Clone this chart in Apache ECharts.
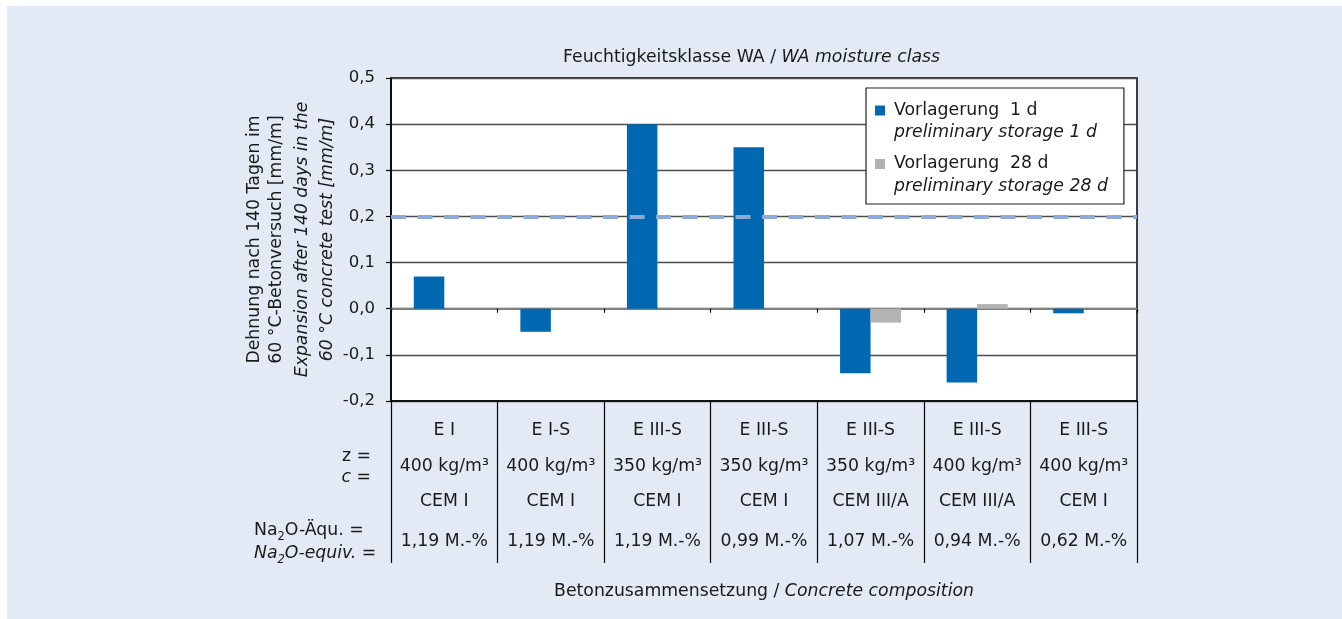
<!DOCTYPE html>
<html>
<head>
<meta charset="utf-8">
<script src="https://cdn.jsdelivr.net/npm/echarts@6/dist/echarts.min.js"></script>
<style>
html,body{margin:0;padding:0;background:#ffffff;}
#chart{position:absolute;left:7px;top:6px;width:1335px;height:613px;background:#e3eaf5;}
</style>
</head>
<body>
<div id="chart"></div>
<script>
// ---- data ----
const categories = ['E I', 'E I-S', 'E III-S', 'E III-S', 'E III-S', 'E III-S', 'E III-S'];
const cementContent = ['400 kg/m³', '400 kg/m³', '350 kg/m³', '350 kg/m³', '350 kg/m³', '400 kg/m³', '400 kg/m³'];
const cementType = ['CEM I', 'CEM I', 'CEM I', 'CEM I', 'CEM III/A', 'CEM III/A', 'CEM I'];
const naEquiv = ['1,19 M.-%', '1,19 M.-%', '1,19 M.-%', '0,99 M.-%', '1,07 M.-%', '0,94 M.-%', '0,62 M.-%'];
const storage1d = [0.07, -0.05, 0.40, 0.35, -0.14, -0.16, -0.01];
const storage28d = [null, null, null, null, -0.03, 0.01, null];
const seriesNamesDe = ['Vorlagerung  1 d', 'Vorlagerung  28 d'];
const seriesNamesEn = ['preliminary storage 1 d', 'preliminary storage 28 d'];
const limitValue = 0.2;
const yTicks = { min: -0.2, max: 0.5, interval: 0.1 };
const rowLabels = ['z =', '{i|c} =', 'Na{s|2}O-Äqu. =', '{i|Na}{si|2}{i|O-equiv. =}'];

const FONT = 'DejaVu Sans';
const FS = 17.3;
const FSY = 16.5;
const TXT = '#1a1a1a';
const OX = 7, OY = 6; // container offset

const chart = echarts.init(document.getElementById('chart'), null, {renderer: 'canvas'});

const enMap = {};
seriesNamesDe.forEach((n, i) => enMap[n] = seriesNamesEn[i]);

function rowAxis(data, margin, showTicks) {
  return {
    type: 'category', gridIndex: 0, position: 'bottom', data: data,
    axisLine: { show: showTicks, onZero: false, lineStyle: { color: '#000', width: 1.5 } },
    axisTick: { show: showTicks, length: 162, lineStyle: { color: '#000', width: 1.2 } },
    axisLabel: { show: true, margin: margin, verticalAlign: 'middle', color: TXT, fontFamily: FONT, fontSize: FS, interval: 0 },
    splitLine: { show: false }
  };
}

const option = {
  animation: false,
  textStyle: { fontFamily: FONT },
  title: {
    text: 'Feuchtigkeitsklasse WA / {i|WA moisture class}',
    left: 558 - OX, top: 44 - OY,
    textStyle: { fontFamily: FONT, fontSize: FS, fontWeight: 'normal', color: TXT,
      rich: { i: { fontFamily: FONT, fontSize: FS, fontStyle: 'italic', color: TXT } } }
  },
  grid: { left: 391 - OX, top: 78 - OY, width: 746, height: 323, containLabel: false, show: true,
    borderColor: '#000', borderWidth: 1.5, backgroundColor: '#ffffff' },
  legend: {
    data: seriesNamesDe,
    orient: 'vertical',
    left: 866 - OX, top: 88 - OY,
    backgroundColor: '#ffffff', borderColor: '#222', borderWidth: 1.2,
    padding: [14, 16, 9, 9],
    itemGap: 14,
    itemWidth: 14, itemHeight: 32.5,
    icon: 'path://M0,0h10v10h-10z M14,32.5',
    formatter: function (name) { return '{a|' + name + '}\n{b|' + enMap[name] + '}'; },
    textStyle: { color: TXT, fontFamily: FONT, fontSize: FS,
      rich: {
        a: { fontFamily: FONT, fontSize: FS, color: TXT, lineHeight: 22.5 },
        b: { fontFamily: FONT, fontSize: FS, color: TXT, fontStyle: 'italic', lineHeight: 22.5 }
      } }
  },
  xAxis: [
    {
      type: 'category', gridIndex: 0, data: categories,
      axisLine: { show: true, onZero: true, lineStyle: { color: '#808080', width: 2 } },
      axisTick: { show: true, length: 4, lineStyle: { color: '#000', width: 1.2 } },
      axisLabel: { show: false }, splitLine: { show: false }
    },
    Object.assign(rowAxis(categories, 30, true), {
      name: 'Betonzusammensetzung / {i|Concrete composition}', nameLocation: 'middle', nameGap: 182,
      nameMoveOverlap: false,
      nameTextStyle: { color: TXT, fontFamily: FONT, fontSize: FS,
        rich: { i: { fontFamily: FONT, fontSize: FS, fontStyle: 'italic', color: TXT } } }
    }),
    rowAxis(cementContent, 66, false),
    rowAxis(cementType, 101, false),
    rowAxis(naEquiv, 141, false)
  ],
  yAxis: {
    type: 'value', min: yTicks.min, max: yTicks.max, interval: yTicks.interval,
    axisLine: { show: true, lineStyle: { color: '#000', width: 1.5 } },
    axisTick: { show: true, length: 5, lineStyle: { color: '#000', width: 1.2 } },
    axisLabel: { margin: 16, color: TXT, fontFamily: FONT, fontSize: FSY,
      formatter: v => v.toFixed(1).replace('.', ',') },
    splitLine: { show: true, lineStyle: { color: '#4d4d4d', width: 1.3 } },
    name: '{n|Dehnung nach 140 Tagen im}\n{n|60 °C-Betonversuch [mm/m]}\n{i3|Expansion after 140 days in the}\n{i|60 °C concrete test [mm/m]}',
    nameLocation: 'middle', nameRotate: 90, nameGap: 52, nameMoveOverlap: false,
    nameTextStyle: { color: TXT, fontFamily: FONT, fontSize: FS,
      rich: {
        n: { fontFamily: FONT, fontSize: FS, color: TXT, lineHeight: 22 },
        i3: { fontFamily: FONT, fontSize: FS, color: TXT, fontStyle: 'italic', lineHeight: 29 },
        i: { fontFamily: FONT, fontSize: FS, color: TXT, fontStyle: 'italic', lineHeight: 22 }
      } }
  },
  series: [
    {
      name: seriesNamesDe[0], type: 'bar', data: storage1d, xAxisIndex: 0,
      barWidth: 30.5, barGap: '0%',
      itemStyle: { color: '#0068b1' },
      markLine: {
        silent: true, symbol: ['none', 'none'], label: { show: false },
        lineStyle: { color: '#8eaadb', width: 4, type: [15, 11.5] },
        data: [{ yAxis: limitValue }]
      }
    },
    {
      name: seriesNamesDe[1], type: 'bar', data: storage28d, xAxisIndex: 0,
      barWidth: 30.5, barGap: '0%',
      itemStyle: { color: '#b3b3b3' }
    }
  ],
  graphic: [
    { type: 'text', x: 371 - OX, y: 457 - OY, style: { text: rowLabels[0], align: 'right', verticalAlign: 'middle', fill: TXT, font: FS + 'px "' + FONT + '"' } },
    { type: 'text', x: 371 - OX, y: 478 - OY, style: { text: rowLabels[1], align: 'right', verticalAlign: 'middle', fill: TXT, font: FS + 'px "' + FONT + '"',
      rich: { i: { fontStyle: 'italic', fontFamily: FONT, fontSize: FS, fill: TXT } } } },
    { type: 'text', x: 254 - OX, y: 531 - OY, style: { text: rowLabels[2], align: 'left', verticalAlign: 'middle', fill: TXT, font: FS + 'px "' + FONT + '"',
      rich: { s: { fontFamily: FONT, fontSize: 11.5, fill: TXT, verticalAlign: 'bottom', lineHeight: 12, padding: [0, 0, -4, 0] } } } },
    { type: 'text', x: 254 - OX, y: 554 - OY, style: { text: rowLabels[3], align: 'left', verticalAlign: 'middle', fill: TXT, font: FS + 'px "' + FONT + '"',
      rich: { i: { fontStyle: 'italic', fontFamily: FONT, fontSize: FS, fill: TXT },
              si: { fontStyle: 'italic', fontFamily: FONT, fontSize: 11.5, fill: TXT, verticalAlign: 'bottom', lineHeight: 12, padding: [0, 0, -4, 0] } } } }
  ]
};
chart.setOption(option);
</script>
</body>
</html>
